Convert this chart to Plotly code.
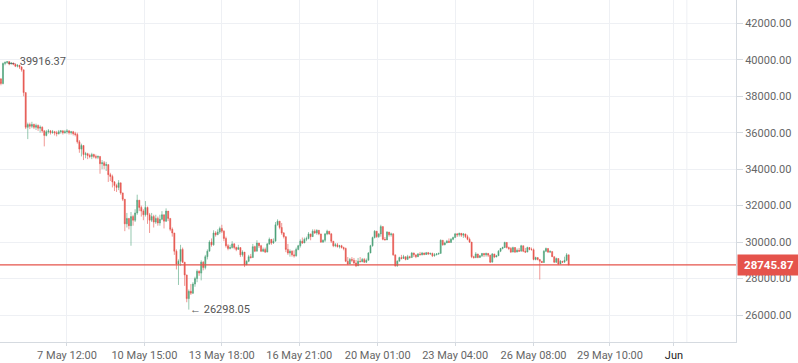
import pandas as pd
import plotly.graph_objects as go

first_open = 38950
close = [
    38700, 39800, 39850, 39900, 39780, 39820, 39760, 39650, 39700, 39600,
    39450, 38200, 36300, 36450, 36350, 36450, 36300, 36400, 36250, 36300,
    36100, 35850, 36050, 36100, 36000, 36050, 36000, 35950, 36050, 36100,
    36000, 36050, 36100, 36000, 36050, 35950, 35900, 35500, 35100, 35300,
    34800, 34850, 34750, 34700, 34800, 34700, 34650, 34700, 34300, 34350,
    34200, 34250, 33700, 33600, 33300, 33100, 33000, 33250, 32700, 32350,
    31000, 31300, 30900, 31400, 31200, 31600, 32300, 31900, 31700, 31500,
    31900, 31500, 31200, 31400, 31100, 31300, 31050, 31250, 31500, 31150,
    31700, 31300, 30700, 30500, 29500, 28800, 28950, 29600, 28900, 28200,
    26900, 27300, 27200, 27700, 28000, 28400, 28300, 28900, 28600, 29200,
    29500, 30000, 29850, 30500, 30400, 30550, 30750, 30600, 30200, 29800,
    29650, 29700, 29900, 29700, 29600, 29700, 29300, 29450, 28750, 28950,
    29200, 29150, 29750, 29500, 29950, 29800, 29500, 29600, 29450, 29900,
    30150, 29950, 30050, 30950, 31150, 30800, 30500, 30300, 29600, 29400,
    29500, 29300, 29250, 29600, 29800, 30050, 29950, 30150, 30200, 30450,
    30300, 30600, 30500, 30650, 30450, 30000, 30100, 30450, 30600, 30450,
    30050, 29800, 29850, 29750, 29800, 29700, 29650, 28950, 28800, 29050,
    29000, 28850, 28700, 28950, 28920, 29050, 28900, 29000, 29400, 29800,
    30250, 30600, 30300, 30450, 30850, 30150, 30120, 30550, 30400, 30450,
    29300, 28700, 28950, 29150, 29100, 29200, 29050, 29200, 29150, 29400,
    29300, 29200, 29350, 29300, 29400, 29320, 29420, 29350, 29380, 29250,
    29300, 29350, 29380, 30100, 29850, 29950, 30050, 29980, 30150, 30250,
    30450, 30400, 30480, 30380, 30450, 30300, 30150, 30000, 29200, 29150,
    29350, 29150, 29250, 29380, 29300, 29380, 29280, 28900, 29350, 29180,
    29250, 29500, 29650, 29700, 29980, 29700, 29650, 29450, 29700, 29450,
    29550, 29500, 29800, 29500, 29450, 29700, 29600, 29580, 29050, 29150,
    29050, 28950, 28880, 29500, 29650, 29450, 29480, 29200, 28900, 29100,
    28800, 28950, 28900, 29000, 29300, 28745.87,
]
high = [
    39000, 39850, 39916.37, 39900, 39880, 39870, 39850, 39800, 39760, 39720,
    39650, 39450, 37500, 36550, 36550, 36600, 36500, 36500, 36450, 36400,
    36350, 36150, 36150, 36200, 36150, 36150, 36100, 36100, 36150, 36150,
    36150, 36150, 36200, 36150, 36100, 36100, 36050, 36000, 35600, 35400,
    35300, 34950, 34900, 34850, 34900, 34850, 34800, 34750, 34700, 34500,
    34450, 34400, 34250, 33800, 33700, 33350, 33200, 33400, 33250, 32700,
    32350, 31600, 31300, 31650, 31500, 31800, 32600, 32300, 32000, 31800,
    32250, 31950, 31600, 31600, 31500, 31500, 31400, 31500, 31700, 31500,
    31850, 31700, 31300, 30800, 30500, 29600, 29050, 29850, 29700, 28900,
    28200, 27400, 27700, 27800, 28100, 28500, 28450, 29000, 28950, 29300,
    29600, 30100, 30200, 30650, 30600, 30700, 30850, 30950, 30650, 30300,
    29900, 29850, 30050, 29950, 29750, 29850, 29600, 29550, 29200, 29000,
    29300, 29350, 29900, 29800, 30100, 29950, 29850, 29700, 29700, 29950,
    30250, 30150, 30200, 31100, 31250, 31150, 31050, 30550, 30300, 29900,
    29600, 29550, 29550, 29700, 29850, 30150, 30250, 30250, 30300, 30550,
    30450, 30700, 30700, 30700, 30600, 30400, 30150, 30500, 30680, 30580,
    30500, 30050, 29950, 29950, 29850, 29850, 29750, 29700, 29180, 29130,
    29180, 29130, 29020, 29130, 29180, 29130, 29130, 29100, 29450, 29850,
    30300, 30660, 30600, 30500, 30950, 30850, 30280, 30600, 30550, 30520,
    30500, 29300, 29000, 29200, 29300, 29300, 29200, 29300, 29250, 29460,
    29420, 29300, 29400, 29460, 29460, 29420, 29460, 29460, 29420, 29420,
    29400, 29400, 29420, 30150, 30100, 30020, 30120, 30200, 30220, 30300,
    30500, 30500, 30520, 30500, 30500, 30450, 30400, 30250, 30000, 29250,
    29450, 29350, 29290, 29400, 29400, 29420, 29400, 29300, 29400, 29350,
    29300, 29560, 29680, 29750, 30020, 30000, 29750, 29730, 29750, 29730,
    29650, 29680, 29850, 29800, 29680, 29750, 29730, 29700, 29650, 29200,
    29130, 29050, 28950, 29560, 29700, 29600, 29560, 29450, 29150, 29150,
    29050, 29020, 28950, 29200, 29400, 29300,
]
low = [
    38600, 38650, 39700, 39780, 39700, 39740, 39700, 39600, 39580, 39500,
    39350, 38000, 36200, 35650, 36200, 36250, 36200, 36150, 36100, 36000,
    36000, 35250, 35800, 35950, 35900, 35950, 35850, 35800, 35900, 35950,
    35900, 35950, 35950, 35900, 35900, 35850, 35800, 35400, 34900, 34700,
    34500, 34600, 34550, 34600, 34550, 34600, 34550, 34550, 33750, 34000,
    34000, 33900, 33300, 33350, 33000, 32800, 32750, 32850, 32600, 32250,
    30600, 30800, 30700, 29800, 30900, 31100, 31500, 31700, 31400, 31200,
    31400, 31000, 30500, 31100, 30800, 31000, 30900, 30900, 31200, 30750,
    31100, 31150, 30600, 30300, 29300, 28500, 27650, 28700, 28850, 27600,
    26700, 26298.05, 27100, 27150, 27550, 27800, 28150, 27900, 28450, 28500,
    29050, 29500, 29750, 29800, 30300, 30400, 30450, 30500, 30050, 29700,
    29550, 29600, 29650, 29600, 29500, 29600, 29180, 29200, 28630, 28850,
    28900, 29100, 29150, 29450, 29750, 29680, 29450, 29450, 29400, 29450,
    29850, 29850, 29900, 30050, 30900, 30700, 30400, 30200, 29450, 29300,
    29200, 29200, 29150, 29200, 29550, 29700, 29900, 29950, 30050, 30150,
    30100, 30300, 30450, 30400, 30380, 29950, 29950, 30000, 30380, 30400,
    29950, 29720, 29720, 29700, 29650, 29650, 29550, 28900, 28740, 28850,
    28900, 28800, 28630, 28850, 28900, 28900, 28850, 28850, 29000, 29400,
    29750, 30200, 30230, 30230, 30300, 30100, 30100, 30120, 30300, 30300,
    29250, 28650, 28650, 28950, 29050, 29100, 29000, 29050, 29100, 29150,
    29180, 29120, 29180, 29280, 29280, 29280, 29290, 29290, 29290, 29180,
    29200, 29280, 29300, 29380, 29800, 29830, 29950, 29950, 29980, 30100,
    30250, 30280, 30300, 30280, 30230, 30220, 30100, 29950, 29120, 29100,
    29120, 29120, 29150, 29180, 29180, 29200, 29180, 28850, 28900, 29120,
    29180, 29250, 29450, 29600, 29680, 29650, 29560, 29400, 29450, 29400,
    29450, 29460, 29500, 29450, 29400, 29450, 29550, 29550, 29000, 29000,
    29000, 27950, 28850, 28880, 29450, 29400, 29400, 29180, 28850, 28850,
    28740, 28800, 28850, 28880, 28950, 28740,
]

x_tick_vals = ["2022-05-07 12:00", "2022-05-10 15:00", "2022-05-13 18:00",
               "2022-05-16 21:00", "2022-05-20 01:00", "2022-05-23 04:00",
               "2022-05-26 08:00", "2022-05-29 10:00", "2022-06-01 00:00"]
x_tick_text = ["7 May 12:00", "10 May 15:00", "13 May 18:00", "16 May 21:00",
               "20 May 01:00", "23 May 04:00", "26 May 08:00", "29 May 10:00",
               "<span style='color:#222'>Jun</span>"]
y_tick_vals = [26000, 28000, 30000, 32000, 34000, 36000, 38000, 40000, 42000]

last_price = 28745.87
max_price = 39916.37
min_price = 26298.05

open_ = [first_open] + close[:-1]
high = [max(h, o, c) for h, o, c in zip(high, open_, close)]
low = [min(l, o, c) for l, o, c in zip(low, open_, close)]
times = pd.date_range("2022-05-04 20:00", periods=len(close), freq="2h")

GREEN = "#4fa37a"
RED = "#e5534b"
GRID = "#eef0f4"
AXIS = "#d5dae0"
TXT = "#666666"
FONT = "Roboto"

fig = go.Figure()
fig.add_trace(go.Candlestick(
    x=times, open=open_, high=high, low=low, close=close,
    increasing=dict(line=dict(color=GREEN, width=0.6), fillcolor=GREEN),
    decreasing=dict(line=dict(color=RED, width=0.6), fillcolor=RED),
    whiskerwidth=0, showlegend=False,
))

imax = high.index(max_price)
imin = low.index(min_price)

fig.add_shape(type="line", xref="paper", x0=0, x1=1, yref="y",
              y0=last_price, y1=last_price, line=dict(color=RED, width=1.2))
fig.add_shape(type="line", xref="x", x0="2022-06-01 12:30", x1="2022-06-01 12:30",
              yref="paper", y0=0, y1=1, line=dict(color=GRID, width=1), layer="below")

fig.add_annotation(x=times[imax], y=max_price, text="← " + f"{max_price:.2f}",
                   xanchor="left", yanchor="middle", showarrow=False, xshift=-1,
                   font=dict(family=FONT, size=11, color="#555"))
fig.add_annotation(x=times[imin], y=min_price, text="← " + f"{min_price:.2f}",
                   xanchor="left", yanchor="middle", showarrow=False, xshift=-1,
                   font=dict(family=FONT, size=11, color="#555"))
fig.add_annotation(xref="paper", x=1, y=last_price, text=f"<b>{last_price:.2f}</b>",
                   xanchor="left", yanchor="middle", showarrow=False, xshift=1,
                   bgcolor=RED, borderpad=3, width=56,
                   font=dict(family=FONT, size=11.5, color="white"))

fig.update_layout(
    width=798, height=363,
    margin=dict(l=0, r=62, t=0, b=21),
    paper_bgcolor="white", plot_bgcolor="white",
    font=dict(family=FONT, size=11, color=TXT),
    xaxis=dict(
        type="date", range=["2022-05-04 19:06", "2022-06-03 12:06"],
        tickmode="array", tickvals=x_tick_vals, ticktext=x_tick_text,
        showgrid=True, gridcolor=GRID, gridwidth=1,
        showline=True, linecolor=AXIS, linewidth=1,
        ticks="outside", ticklen=3, tickcolor=AXIS,
        rangeslider=dict(visible=False), zeroline=False,
        tickfont=dict(family=FONT, size=11, color=TXT),
    ),
    yaxis=dict(
        side="right", range=[24520, 43280],
        tickmode="array", tickvals=y_tick_vals, tickformat=".2f",
        showgrid=True, gridcolor=GRID, gridwidth=1,
        showline=True, linecolor=AXIS, linewidth=1,
        ticks="outside", ticklen=6, tickcolor=AXIS,
        zeroline=False,
        tickfont=dict(family=FONT, size=11, color=TXT),
    ),
)

fig.write_html("out.html", config={"displayModeBar": False},
               post_script="document.body.style.margin='0';document.body.style.padding='0';")
